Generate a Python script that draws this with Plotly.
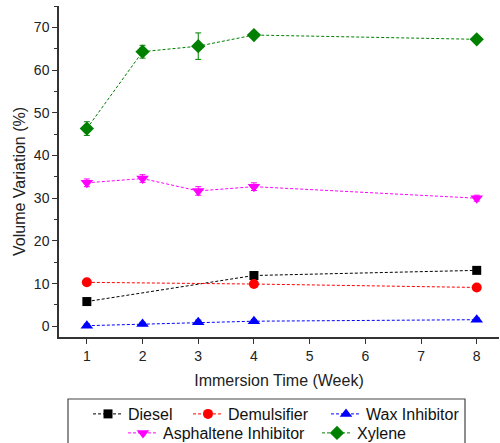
import plotly.graph_objects as go

weeks_all = [1, 2, 3, 4, 8]
weeks_148 = [1, 4, 8]

diesel = [5.8, 11.9, 13.1]
demulsifier = [10.3, 9.9, 9.1]
wax = [0.15, 0.55, 0.95, 1.2, 1.55]
wax_err = [0.4, 0.4, 0.5, 0.4, 0.4]
asphaltene = [33.6, 34.6, 31.7, 32.7, 30.0]
asphaltene_err = [0.9, 0.9, 1.0, 0.9, 0.7]
xylene = [46.3, 64.3, 65.6, 68.2, 67.2]
xylene_err = [1.6, 1.5, 3.1, 0.7, 0.5]

x_ticks = [1, 2, 3, 4, 5, 6, 7, 8]
y_ticks = [0, 10, 20, 30, 40, 50, 60, 70]

FONT = "Arial, Liberation Sans, sans-serif"
DASH = "3px,2px"

L, W, B, H = 59, 440, 337, 331  # plot area left, width, bottom(px from top), height

fig = go.Figure()

def add(name, x, y, color, symbol, size, legend, err=None):
    kw = {}
    if err is not None:
        kw["error_y"] = dict(type="data", array=err, visible=True, color=color,
                             thickness=1, width=3)
    fig.add_trace(go.Scatter(
        x=x, y=y, name=name, mode="lines+markers",
        line=dict(color=color, width=1, dash=DASH),
        marker=dict(color=color, symbol=symbol, size=size, line=dict(width=0)),
        legend=legend, **kw))

add("Diesel", weeks_148, diesel, "#000000", "square", 9, "legend")
add("Demulsifier", weeks_148, demulsifier, "#ff0000", "circle", 10, "legend2")
add("Wax Inhibitor", weeks_all, wax, "#0000ff", "triangle-up", 11, "legend3", wax_err)
add("Asphaltene Inhibitor", weeks_all, asphaltene, "#ff00ff", "triangle-down", 11, "legend4", asphaltene_err)
add("Xylene", weeks_all, xylene, "#008000", "diamond", 11, "legend5", xylene_err)

axis_common = dict(
    showline=True, linecolor="#333333", linewidth=1.5, mirror=False, automargin=False,
    showgrid=False, zeroline=False, ticks="outside", ticklen=5, tickwidth=1,
    tickcolor="#333333", tickfont=dict(family=FONT, size=14, color="#222222"),
)

def leg(px_left, px_y):
    return dict(orientation="h", x=(px_left - L) / W, xanchor="left",
                y=(B - px_y) / H, yanchor="middle",
                bgcolor="rgba(0,0,0,0)", borderwidth=0,
                font=dict(family=FONT, size=16, color="#111111"), itemwidth=30)

fig.update_layout(
    width=500, height=443,
    margin=dict(l=59, r=1, t=6, b=106, autoexpand=False),
    plot_bgcolor="white", paper_bgcolor="white",
    font=dict(family=FONT, color="#222222"),
    xaxis=dict(range=[0.5, 8.4], tickvals=x_ticks,
               title=dict(text="Immersion Time (Week)", font=dict(family=FONT, size=16), standoff=12),
               **axis_common),
    yaxis=dict(range=[-2.5, 75], tickvals=y_ticks,
               minor=dict(dtick=5, tick0=0, ticks="outside", ticklen=3, tickcolor="#333333", showgrid=False),
               **axis_common),
    legend=leg(88, 414),
    legend2=leg(188, 414),
    legend3=leg(326, 414),
    legend4=leg(123, 433),
    legend5=leg(317, 433),
    showlegend=True,
)

fig.add_annotation(text="Volume Variation (%)", textangle=-90, showarrow=False,
                   xref="paper", yref="paper", x=(19 - L) / W, y=(B - 182) / H,
                   xanchor="center", yanchor="middle",
                   font=dict(family=FONT, size=16, color="#222222"))

fig.add_shape(type="rect", xref="paper", yref="paper",
              x0=(68 - L) / W, x1=(465 - L) / W, y0=(B - 399) / H, y1=(B - 446) / H,
              line=dict(color="#444444", width=1.2), fillcolor="rgba(0,0,0,0)")

fig.write_html("out.html", config={"displayModeBar": False},
               post_script="document.body.style.margin='0';")
